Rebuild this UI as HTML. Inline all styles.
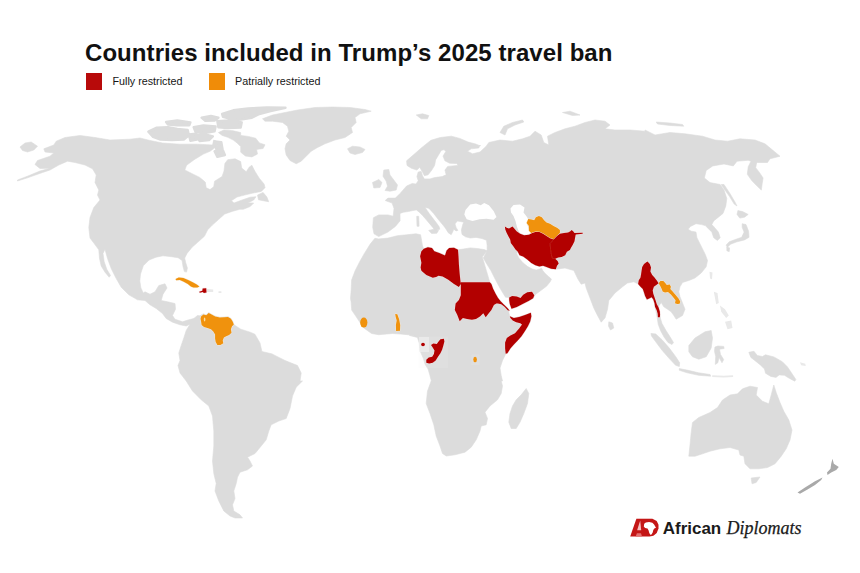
<!DOCTYPE html>
<html><head><meta charset="utf-8"><title>Countries included in Trump's 2025 travel ban</title>
<style>
html,body{margin:0;padding:0;background:#fff;}
body{width:860px;height:573px;position:relative;overflow:hidden;font-family:"Liberation Sans",sans-serif;}
.title{position:absolute;left:85px;top:38.4px;font-size:24px;font-weight:bold;color:#111;white-space:nowrap;line-height:30px;letter-spacing:0.065px;}
.sw{position:absolute;top:73.2px;width:16.6px;height:16.6px;}
.lb{position:absolute;top:73.7px;font-size:10.75px;color:#151515;white-space:nowrap;line-height:14px;}
.af{position:absolute;left:662.7px;top:517.7px;font-size:17px;font-weight:bold;color:#1a1a1a;line-height:22px;white-space:nowrap;}
.dp{position:absolute;left:726.5px;top:517.4px;-webkit-text-stroke:0.25px #1a1a1a;font-family:"Liberation Serif",serif;font-style:italic;font-size:18px;color:#1a1a1a;line-height:22px;white-space:nowrap;}
</style></head><body>
<svg width="860" height="573" viewBox="0 0 860 573" style="position:absolute;left:0;top:0">
<defs><filter id="b" x="-2%" y="-2%" width="104%" height="104%"><feGaussianBlur stdDeviation="0.7"/></filter><filter id="b3"><feGaussianBlur stdDeviation="0.65"/></filter><filter id="b2"><feGaussianBlur stdDeviation="0.4"/></filter></defs>
<g filter="url(#b3)"><path d="M148.4 131.7 L156.8 127.6 L168 127.2 L177.3 128.9 L187.6 129.9 L188.9 135.4 L183.8 139.6 L171.7 140.1 L160.5 139.6 L153.1 136.9Z M188.9 134.5 L196 133.6 L196.9 139.6 L190.4 140.7Z M214.6 141.4 L221.3 142.2 L222.5 148.9 L216.5 150Z M166.1 122 L177.3 120.5 L190.4 122.4 L189.4 125.2 L177.3 125.2 L168 124.6Z M193.7 127.2 L203.4 125.4 L215.6 126.5 L214.6 131.3 L203.4 133.2 L195.6 132.1Z M196 135.4 L205.3 134.5 L212.8 136.4 L209 140.1 L199.7 141Z M217.4 121.3 L229.6 120.5 L241.7 122.4 L240.7 127.6 L227.7 128 L218.4 127.2Z M201.6 117.7 L210.9 115.9 L218.4 117.7 L214.6 120.5 L205.3 120.9Z M222.1 114 L233.3 110.3 L248.2 108.4 L266.9 107.5 L285.5 107.8 L270.6 111.2 L259.4 114 L251.9 117.7 L240.7 119.6 L229.6 118.7 L223 116.8Z M214.6 151.3 L223 150.4 L224.9 155 L217.4 156.9Z" fill="#dcdcdc" stroke="#dcdcdc" stroke-width="2.4" stroke-linejoin="round"/></g>
<g filter="url(#b)">
<path d="M17.5 180 L27.5 176.2 L40 171 L50 168.2 L40 168.5 L35 164.5 L37.5 160.5 L50 156.2 L53.8 153 L45 152 L43.8 148.8 L53.8 145 L56.2 141.2 L65 137.5 L80 135.5 L95 137.5 L110 140 L130 139.2 L140 138 L150 140.5 L162.5 143 L180 144.2 L197.5 144.2 L212.5 145 L213.7 140.1 L218.4 142 L216.5 146.6 L210 151.3 L203.4 154.1 L194.1 159.7 L186.6 165.3 L184.8 170 L192.2 173.7 L199.7 177.4 L205.3 182.1 L206.2 187.7 L210 189.6 L213.7 186.8 L214.6 181.2 L222.1 176.5 L224 170.9 L224.9 163.4 L227.7 159.7 L235.1 158.8 L240.7 161.6 L241.7 168.1 L246.3 171.8 L249.1 167.2 L251.9 165.3 L254.7 170.9 L259.4 178.4 L264.1 184 L265 187.7 L261.3 191.4 L251.9 193.3 L244.5 195.1 L237 197 L231.4 200.7 L234 203 L242.1 200 L250.2 197.2 L256 196.7 L253.7 200 L247.9 203 L253.7 203 L250.2 206.5 L243.3 209.3 L239.8 209.3 L232.8 211.2 L224.7 214 L218.8 219.3 L212.3 225.1 L207.7 229.8 L204.4 236.3 L197.4 242.6 L192.1 247.2 L187 253.5 L184.7 258.1 L185.6 262.3 L187.4 268.1 L186.5 272.1 L184.4 271.6 L183 266.5 L182.1 260.5 L178.1 257.7 L170 256.5 L163 255.8 L156 257.2 L149.1 260 L143.3 265.8 L140.5 274 L139.8 280.9 L140.9 287.9 L143.3 293 L145 291.8 L150 294.2 L155 291.8 L158.8 285.5 L165 283.8 L167 288 L163 294.2 L161.2 300.5 L167.5 301.8 L175 303.5 L175.5 309.2 L172.5 315.5 L175 319.2 L182.5 321.8 L188 320 L193.8 318.5 L197.5 320.5 L190 324.2 L186.2 326 L180 324.8 L172.5 322.2 L166.2 318.5 L162.5 313.5 L156.2 308.5 L150 304.8 L145 300.5 L137.5 299.8 L128.8 294.8 L121.2 287.2 L116.2 278.5 L111.2 268.5 L107.5 258.5 L105 249.2 L103 253.5 L104.2 261.8 L106.8 269.2 L110.5 275.5 L109.2 277.2 L105 272.2 L101.2 266 L99.5 258.5 L98.8 249.8 L93.8 243 L90 238 L88.8 227.5 L90 217.5 L93.8 207.5 L100 200 L97.5 195 L98.8 190 L95 182.5 L96.2 175 L92.5 168.8 L85 165 L75 162.5 L67.5 161.2 L58.8 165 L50 170 L42.5 172.5 L27.5 177.8 L17.5 181Z M20 147 L25 143 L31.2 142 L37.5 146.2 L33.8 150 L27.5 152 L22.5 150.5Z M257.5 195.1 L263.1 192.4 L266.9 197 L268.7 201.7 L263.1 200.7 L258.5 199.8Z M240.7 135.4 L248.2 136.4 L255.7 138.2 L259.4 142.9 L265 144.8 L263.1 148.5 L256.6 149.4 L257.5 154.1 L251.9 156.9 L245.4 156 L240.7 152.2 L240.7 146.6 L237 142.9 L233.3 140.1 L227.7 137.3 L222.1 135.4 L218.4 132.6 L224 129.9 L233.3 130.8 L240.7 132.6Z M262.5 118.8 L272.5 115 L285 112.5 L297.5 110 L315 107.5 L332.5 107 L350 107.5 L365 109.5 L371.2 111.2 L360 113.8 L355 117.5 L356.2 122.5 L351.2 127.5 L352.5 132.5 L345 137.5 L335 140 L325 143.8 L317.5 147.5 L311.2 151.2 L306.2 156.2 L301.2 161.2 L296.2 163.8 L290 160.5 L286.2 155 L285 148.8 L286.2 143.8 L290 140 L286.2 136.2 L288.8 131.2 L287.5 126.2 L282.5 122.5 L272.5 121.2 L265 121.2Z M347.5 148.8 L352.5 146.2 L360 147 L365 149.5 L362.5 152.5 L355 154.5 L350 153Z M416.2 115 L422.5 113.8 L428.8 115.5 L427.5 118.8 L421.2 118.8Z M383.8 170 L388.8 169.5 L390 175 L393.8 180 L397.5 185 L396.2 190 L390 191.2 L385 190.5 L387.5 186.2 L386.2 181.2 L383 176.2Z M372.5 182.5 L378.8 179.5 L382 182.5 L380 187.5 L373.8 188Z M193.8 318.5 L197.5 315.5 L199.9 315.8 L203.4 313.8 L206.3 315 L208.7 312.6 L211.6 314.4 L215.1 316.1 L219.8 317.3 L224.4 317.1 L228 316.7 L231.1 318.5 L232.9 321.6 L234 324.8 L240.8 329.2 L250.2 332.2 L254.9 334.2 L260 343 L261.9 351.5 L272.5 354 L272.5 354.2 L285 360.5 L297.5 365.5 L301.2 373 L300 381 L302.5 381 L296.2 387.2 L292.5 396 L290 408.5 L286.2 418.5 L278.8 421 L271.2 424.8 L268.8 431 L266.2 439.8 L261.2 446 L255 453.5 L247.5 457.2 L250 461 L252.5 466 L247.5 469.8 L240 472.2 L237.5 477.2 L236.2 483.5 L233.8 491 L235 498.5 L232.5 504.8 L233.8 511 L240 514.8 L242.5 518 L235 518 L230 516 L223.8 511 L218.8 501 L215 491 L216.2 483.5 L213.8 473.5 L212.5 461 L213.8 446 L213.8 431 L212.5 416 L208.8 406 L201.2 399.8 L192.5 391 L186.2 381 L180 373 L178 365.5 L180 360.5 L178.8 353 L181.2 345.5 L183.8 338 L186.2 330.5 L190 324.2Z M378.7 236.6 L374 233.8 L372.7 227.3 L373.4 217.7 L378.7 214.9 L388 214.9 L393.2 216.2 L394 208.4 L392.1 203.1 L385.2 200.5 L388 198.1 L395.4 198.1 L400.1 193.4 L406.6 186 L412.2 183.5 L416 184.1 L418.2 180.7 L416.9 176.6 L418.2 172 L421.2 171.4 L422.5 175.7 L424.4 178.9 L430 178.9 L434.6 177.6 L442.1 176.6 L446.2 174.8 L444.9 170.1 L447.7 166.4 L457.9 165.4 L457 163.6 L449.6 163.2 L444.9 160.8 L443 156.1 L445.8 151.5 L444 149.6 L441.2 150.5 L438.4 155.2 L435.6 159.9 L434.6 165.4 L431.8 170.1 L428.1 174.8 L424.4 175.7 L422.5 172 L419.7 167.3 L416.9 170.1 L411.3 168.2 L407 165.4 L406.6 160.8 L414.1 154.3 L421.6 147.7 L430.9 140.3 L440.2 137.5 L451.4 136.2 L459.8 138.4 L468.2 142.1 L475.7 144 L480.3 145.9 L480 145 L478.8 148 L471.2 148.8 L467.5 151.2 L472.5 153.8 L480 152 L486.2 146.2 L488.8 142.5 L500 140 L512.5 141.2 L522.5 138.8 L530 136.2 L535 131.2 L541.2 135 L543.8 142.5 L548.8 145 L547.5 136.2 L555 132.5 L565 128.8 L575 126.2 L585 122.5 L595 120 L605 121.2 L610 125 L605 128.8 L615 130 L630 130 L645 131.2 L645 130 L655 135 L670 132.5 L685 133.8 L702.5 136.2 L715 140 L727.5 141.2 L740 138.8 L755 140 L765 143.8 L772.5 150 L780 156.2 L770 158.8 L767.5 162.5 L757.5 162.5 L756.6 163.1 L755.7 167.7 L759.4 172.4 L763.1 178 L762.2 183.6 L761.3 190.1 L757.5 186.4 L751.9 180.8 L747.3 174.3 L748.2 166.8 L751 161.2 L748.2 160.3 L737 161.2 L733.3 165.9 L724 164 L712.8 165.9 L706.2 170.5 L704.4 178 L710 182.6 L720.2 184.5 L724 190.1 L726.8 198.5 L725.8 206 L723 213.4 L718.4 217.2 L713.7 220.9 L711.8 224.6 L713.7 226.5 L718.4 232.1 L720.2 237.7 L717.4 240.5 L713.7 237.7 L711.8 232.1 L708.1 228.4 L705.3 225.6 L701.6 224.6 L696 223.7 L690.4 226.5 L688.1 229.3 L691.3 231.2 L696 232.1 L696.9 237.7 L699.7 243.3 L702.5 248.9 L705.3 254.5 L706.2 256.9 L707.5 260.5 L706.2 266.8 L701.2 273 L695 278 L688.8 280.5 L682.5 282.5 L680 286.8 L678.8 291.8 L680 296.8 L682.5 303 L685 309.2 L682.5 315.5 L676.2 319.2 L673.8 315.5 L671.2 311.8 L667.5 309.2 L663.8 306.8 L661.2 302.5 L658.8 306 L659.2 313 L660.5 318.5 L662 323.5 L666 330.5 L670 336.8 L673.5 342.5 L672 344.5 L668 342.5 L664 337 L660.5 330.5 L658.2 324.2 L657.2 317.5 L655.1 307 L654.5 303.2 L653.3 299.6 L651.6 297.3 L649.2 298.5 L646.9 299.6 L645.1 296.1 L644 292.6 L642.8 289.1 L640.5 286.8 L638.1 283.9 L633.8 281.8 L627.5 283 L622.5 286.8 L615 293 L608.8 300.5 L607.5 309.2 L605 318 L601.2 322.2 L597.5 315.5 L593.8 308 L590 298 L586.2 288 L585 283 L581.2 284.2 L578 279.2 L573.8 270.5 L565 268 L555.8 269.2 L555.8 269.3 L551.1 268.7 L546.5 267 L543 265.8 L539.4 266.4 L535.4 265.2 L531.3 262.9 L527.2 259.4 L523.1 256.5 L519.6 255.3 L517.8 251.8 L516.7 253.7 L519 258.2 L523 262.8 L527.7 266.6 L532.1 268.9 L536.2 270.1 L539.1 269.2 L541.5 268.2 L542.9 270.7 L545.2 273.6 L548.5 276.5 L551.4 279.1 L550.2 281.8 L547.3 285.3 L546.8 286 L541.8 289.8 L535 294.8 L533.2 298.2 L528.5 301.1 L522.6 304 L516.8 307 L511.5 308.7 L509.8 304 L509.2 297.6 L505.5 297.2 L500.2 288.5 L495.5 279.8 L491 270.8 L486.2 263 L484.5 260 L483.3 258 L487.1 250.8 L487.1 245 L486.5 240.3 L481.9 238.5 L476 237.4 L470.2 238 L465.5 236.8 L462 234.4 L461.4 229.8 L462.6 225.1 L463.7 222.2 L460.8 221.6 L457.3 221 L455 223.9 L456.1 227.4 L457.9 230.4 L456.1 230.9 L453.8 229.2 L452.6 232.1 L451.2 234.7 L448.2 232.7 L445.6 228.4 L443 225.1 L439.8 221.3 L436.7 217.4 L433.7 213.6 L430.9 210.4 L428.7 208.2 L425.1 207.5 L426.3 209.3 L429.2 213.4 L432.7 218.1 L436.3 222.7 L439.2 226.8 L439.8 229.2 L437.4 229.8 L435.1 230.4 L432.7 227.4 L429.8 223.9 L426.3 219.8 L422.8 215.7 L419.3 212.2 L416.4 209.9 L412.9 210.5 L408.2 211.6 L403.5 212.2 L400 213.4 L400.1 220.8 L395.4 226.4 L388 232Z M500 132.5 L503.8 126.2 L512.5 122.5 L522.5 120 L523.8 122 L515 125 L507.5 128.8 L505 135Z M562.5 112.5 L570 111.2 L580 115 L572.5 115.5Z M656.2 122 L670 123 L682.5 124.5 L683.8 126.2 L670 125.5 L657.5 124Z M721.2 184.5 L724 184.5 L729.6 192.9 L735.1 202.2 L737 206 L734.2 204.1 L729.6 196.6 L724.9 190.1Z M737.9 210.6 L742.6 211.6 L748.2 214.4 L744.5 217.2 L739.8 218.1 L737 214.4Z M742.2 223.7 L746 224.6 L748.6 231.2 L749 237.3 L744.5 239.9 L737 241.8 L730.5 244.2 L727.3 247.4 L726.2 245.1 L729.2 241.8 L736.1 239.2 L741.7 237.3 L744.1 232.1 L742.2 227.4Z M726.8 247 L729.6 247.9 L729.2 251.7 L726.8 250.7Z M428.7 230.4 L433.9 229.2 L438.6 230.4 L436.8 233.3 L431.6 233.5Z M416.7 216.3 L418.7 216.3 L419.1 226.3 L417 226.3Z M608.8 321.8 L612.5 323 L613.8 328 L610.5 330 L608.5 326Z M650.9 333.5 L655.7 333.9 L662 339.7 L669.3 348.1 L675.6 356.5 L679.7 362.8 L679.3 366.5 L675.6 365.3 L669.3 358.6 L662 350.2 L655.7 341.8 L651.5 336Z M679.3 368.6 L688.1 370.3 L698.6 372.8 L710.1 374.5 L710.7 376.2 L698.6 375.3 L687.1 372.8 L679.3 370.3Z M688.8 345.5 L695 338 L705 331.8 L711.2 330.5 L712.5 338 L711.2 348 L706.2 356.8 L698.8 359.2 L692.5 356.8 L688.8 351.8Z M714.9 347.1 L717.8 346 L723.7 346.4 L724.1 348.5 L719.5 349.2 L720.5 354.4 L723.7 359.6 L722 362.8 L719.1 357.5 L717.8 362.8 L715.3 364.4 L715.7 356.5 L714.5 351.3Z M748.8 352.3 L754 351.3 L757.2 355.4 L762.4 356.5 L765.5 354.8 L773.9 356.9 L782.3 361.7 L787.5 366.9 L791.7 373.2 L795.9 379.5 L794.8 381.2 L789.6 378.5 L784.4 375.3 L779.1 374.9 L776 377.4 L770.8 376.4 L765.5 373.2 L764.5 369 L760.3 364.9 L755.1 360.7 L750.9 357.5Z M688.8 456.2 L690 445 L691.2 432.5 L692.5 422.5 L698.8 417.5 L710 412.5 L717.5 407.5 L722.5 400 L730 395 L737.5 393.8 L742.5 388.8 L750 386.2 L757.5 387.5 L756.2 395 L762.5 401.2 L768.8 403.8 L771.2 395 L773.8 385 L776.2 392.5 L780 402.5 L783.8 411.2 L788.8 420 L792 430 L790 440 L786.2 448.8 L781.2 456.2 L775 463.8 L767.5 467.5 L758.8 468.8 L750 468.8 L745 463.8 L743.8 456.2 L740 455 L738.8 450 L730 447.5 L720 448.8 L710 451.2 L702.5 453.8 L695 456.2Z M751.2 478 L760 477 L756.2 482.5 L752 483.8Z M378.7 238.9 L388 238.1 L397.3 235.7 L406.6 234.8 L416 233.8 L420.6 234.8 L421.6 240.4 L422.5 246 L423.8 248.8 L427.9 247.2 L432 248 L434.4 251.3 L439.3 252.9 L445 255.4 L446.6 250.5 L449.1 248 L454 247.7 L458 249.7 L463.2 249.1 L470.2 247.9 L477.2 248.5 L484.2 249.6 L487.1 250.8 L482.3 256.9 L489.8 282.2 L491.4 283.9 L493.1 288.7 L495.5 293.6 L497.9 297.7 L500.4 301 L503.6 304.2 L507.7 308.3 L509.7 310.7 L508.6 311.1 L509.2 314 L509.8 316.3 L513.9 318.1 L519.1 316.9 L525 315.1 L530.8 312.8 L531.4 316.3 L530.2 321.6 L527.9 326.3 L525 330.9 L521.5 336.2 L518 340.3 L513.9 344.4 L510.4 348.5 L507.4 353.2 L505.7 354.1 L502.5 360.5 L500 368 L501.2 375.5 L502.5 381 L501.2 381 L502.5 386 L501.2 393.5 L497.5 399.8 L490 406 L485 412.2 L487.5 418.5 L486.2 424.8 L481.2 426 L480 431 L476.2 439.8 L471.2 447.2 L465 452.2 L455 454.8 L446.2 456 L442.5 453.5 L440 446 L436.2 436 L433.8 424.8 L430 413.5 L426.2 403.5 L427.5 391 L431.2 381 L431.6 382 L429.8 375 L428.1 369.1 L425.1 364.4 L423.4 358.6 L419.9 350.4 L419.3 343.4 L417.5 337.5 L409.4 335.4 L414.9 335.3 L407.8 334.7 L400.8 334.1 L392.6 333.5 L378.6 334.7 L371.6 333.5 L363.4 327.7 L356.4 317.1 L351.7 310.1 L351.1 301.7 L350.5 298.7 L351.2 289.4 L351.6 280.1 L355.1 270.8 L359.8 261.5 L364.4 253.4 L370.2 244.1 L374.9 238.3Z M526.2 388.5 L528.8 393.5 L527.5 403.5 L523.8 413.5 L520 422.2 L516.2 428.5 L511.2 428.5 L508.8 422.2 L510 413.5 L512.5 406 L516.2 399.8 L521.2 394.8Z" fill="#dcdcdc" stroke="#dcdcdc" stroke-width="0.6" stroke-linejoin="round"/>
<path d="M465.5 209.9 L470.2 204.6 L476 203.5 L480.7 205.2 L484.2 202.9 L488.9 205.2 L493.6 211.1 L496.5 216.9 L493.6 219.8 L486.5 218.7 L479.5 219.2 L472.5 221 L466.7 219.2 L464.3 214.6Z M510.5 208.5 L513.5 205 L520 204.5 L524.5 207.5 L523.5 212.5 L527 217 L528.5 220 L527 223.5 L528.5 228 L531 233 L527 235 L522 234.5 L519 232 L517 227 L515.5 221 L513.5 216 L511 212.5Z" fill="#fff"/>
<rect x="418.5" y="336.5" width="29.5" height="31.5" fill="#f0f0f0" opacity="0.15"/>
<rect x="419" y="337" width="10" height="15" fill="#f2f2f2" opacity="0.6"/>
<rect x="471.5" y="354.5" width="8" height="10.5" fill="#e8e8e8" opacity="0.3"/>
<path d="M832.5 458.8 L833.8 463.8 L838.8 467 L836.2 470 L831.2 472.5 L827.5 475 L827 472.5 L830.5 468.8 L831.2 463.8Z M797.5 492.5 L805 487.5 L815 481.2 L822.5 477.5 L821.2 480 L815 485 L807.5 489.5 L800 493.8Z" fill="#a9a9a9"/>
<path d="M712.2 375.3 L723.7 375.7 L733.1 375.3 L733.1 377 L723.7 377.4 L712.2 377Z M713.8 291.8 L717.5 293 L718.8 303 L716.2 304.2Z M725 321.8 L731.2 320.5 L732.5 328 L727.5 329.2Z M709.5 271.8 L712.5 272.5 L712 279.2 L710 278.5Z M800 362.3 L805.3 363.8 L805.7 365.9 L801.1 365.3Z M206.8 289 L213.2 289.6 L213.2 291.9 L206.8 292.1Z M218.5 291.3 L221.4 291.3 L221.4 293.1 L218.5 293.1Z M720 305.5 L725 309.2 L728.8 315.5 L726.2 318 L721.2 311.8Z" fill="#e9e9e9"/>
<path d="M175.6 279 L178.7 277.4 L183.4 277.9 L188.1 279.9 L192.7 282.2 L196.8 284.5 L199.4 286.6 L197.4 287.5 L193.3 287.6 L190.8 286.4 L187.8 284.1 L183.7 281.7 L179.9 280 L176.1 280.2Z M201.1 316.4 L203.4 314.6 L206.3 315.2 L208.7 312.9 L211.6 314.6 L215.1 316.4 L219.8 317.5 L224.4 317.3 L228 317 L230.9 318.7 L232.6 321.6 L233.8 324.6 L232 326.3 L230.9 329.2 L231.5 332.7 L229.1 335.1 L226.2 336.3 L223.9 337.4 L222.7 340.4 L223.3 343.3 L220.4 345 L217.4 345 L215.7 342.1 L215.1 338.6 L215.1 334.5 L213.3 331.6 L211 329.2 L207.5 328.1 L204 326.9 L201.6 325.1 L201.1 321.6 L200.5 318.7Z M528.3 219 L526.6 223.1 L528.9 226.1 L528.9 230.7 L531.3 233.1 L535.4 231.9 L539.4 232.1 L543 233.7 L546.5 236 L550 238.3 L553.5 239.5 L557 236 L559.9 233.1 L559.9 230.1 L557 227.8 L553.5 226.1 L550 223.7 L546.5 222.5 L544.1 220.2 L541.8 217.3 L538.9 216.1 L535.9 217.3 L534.2 220.2 L531.3 219.6Z M658.6 283.3 L660.4 280.9 L663.3 280.9 L665 282.7 L666.8 285 L669.7 284.4 L670.9 286.8 L670.3 289.1 L672.6 291.5 L675.6 295 L678.5 298.5 L680.2 301.4 L679.6 303.7 L677.3 304.1 L675 303.2 L675.6 300.2 L673.2 297.3 L670.9 294.4 L668 292 L665 292.6 L662.7 291.5 L661.5 288.5 L660.4 286.2Z M395.2 314 L397.3 314.3 L399.1 319.2 L400.2 325.1 L400 330.7 L396.1 330.9 L395.9 325.1 L396.7 320.4 L395.7 316.9Z" fill="#f0920a" stroke="#f6ead8" stroke-width="0.9" paint-order="stroke" stroke-linejoin="round"/>
<path d="M202.7 288.4 L206.2 288.2 L206.5 292.5 L203.9 293.1 L202.7 291.9 L199.8 292.8 L199.2 291.7 L202.3 290.7Z M423.8 248.8 L427.9 247.2 L432 248 L434.4 251.3 L439.3 252.9 L445 255.4 L446.6 250.5 L449.1 248 L454 247.7 L458 249.7 L458.5 256.2 L458.9 264.3 L459.7 274.1 L460.5 281.4 L460.8 283.9 L458.9 287.1 L454 283.9 L448.3 279.8 L442.6 276.5 L438.5 275.7 L436.1 277 L432.8 277.7 L426.3 274.9 L421.4 270.8 L420.6 267.6 L421.4 262.7 L420.1 256.2 L421.4 251.3Z M460.8 282.2 L475.1 282.2 L489.8 282.2 L491.4 283.9 L493.1 288.7 L495.5 293.6 L497.9 297.7 L500.4 301 L503.6 304.2 L507.7 308.3 L509.7 310.7 L507.7 310.2 L504.5 306.7 L501.2 304.2 L497.9 303.4 L496.3 303.4 L493.9 305 L491.4 309.9 L488.2 314 L485.7 317.2 L483.3 313.2 L480 316.4 L476 318.9 L471.9 319.7 L467 318.9 L462.9 318.1 L459.7 321.3 L457.2 314.8 L454.8 309.9 L455.6 303.4 L458.9 300.1 L460.8 295.3Z M509.2 297.6 L512.1 296.1 L516.8 296.4 L520.5 298 L523.2 294.7 L527.3 292.3 L532 291.8 L534.3 295.3 L533.2 298.2 L528.5 301.1 L522.6 304 L516.8 307 L511.5 308.7 L509.8 304 L509.2 300.5Z M509.8 316.3 L513.9 318.1 L519.1 316.9 L525 315.1 L530.8 312.8 L531.4 316.3 L530.2 321.6 L527.9 326.3 L525 330.9 L521.5 336.2 L518 340.3 L513.9 344.4 L510.4 348.5 L507.4 353.2 L505.7 353.7 L505.1 348.5 L505.1 342.6 L506.8 338 L510.4 335.6 L515 333.3 L519.1 328.6 L522 324.5 L520.3 323.3 L516.2 322.2 L512.7 320.4 L510.4 318.1Z M504.9 226.6 L506.7 227.8 L509 228.4 L512.5 226.6 L514.3 228.4 L516.6 231.3 L520.1 233.7 L524.2 235.2 L528.9 234.8 L532.4 233.1 L535.4 231.9 L539.4 232.1 L543 233.7 L546.5 236 L550 238.3 L553.5 239.5 L557 236 L559.9 233.7 L564 233.1 L568.1 232.5 L570.4 231.3 L571.6 230.1 L573.1 231.3 L574.5 233.1 L582.7 232.8 L582.7 233.8 L575.7 234.5 L575.1 237.7 L574.5 241.3 L572.8 244.8 L571 247.7 L569.9 250 L566.9 251.8 L565.2 255.3 L561.7 257 L558.2 257.6 L555.2 258.8 L557.6 261.1 L558.7 263.5 L557 265.8 L555.8 269.3 L551.1 268.7 L546.5 267 L543 265.8 L539.4 266.4 L535.4 265.2 L531.3 262.9 L527.2 259.4 L523.1 256.5 L519.6 255.3 L517.8 251.8 L515.5 249.4 L513.1 245.9 L510.8 243 L510.2 239.5 L508.5 236.6 L506.7 233.1 L505.3 229.6Z M440.4 339.3 L443.9 338.7 L444.4 341.6 L443.3 345.7 L442.1 349.8 L440.4 353.3 L438 356.8 L435.7 360.4 L432.7 362.7 L429.2 363.5 L426.3 362.7 L426.3 359.8 L428.7 357.4 L432.2 356.8 L433.9 353.9 L434.5 350.4 L432.7 347.5 L431 345.1 L433.3 343.4 L436.8 344 L438.6 341.6Z M647.5 261.6 L649.8 264 L651 267.5 L650.4 271.6 L652.2 275.1 L654.5 277.4 L656.8 280.4 L658.6 283.3 L656.3 285 L653.9 286.8 L652.7 290.3 L653.3 293.8 L654.5 297.3 L655.7 300.8 L656.8 304.3 L658.4 307 L659.8 311.6 L660.1 314.9 L659.8 317.2 L657.9 317.2 L657.7 313.7 L656.7 310.2 L655.1 307 L654.5 303.2 L653.3 299.6 L651.6 297.3 L649.2 298.5 L646.9 299.6 L645.1 296.1 L644 292.6 L642.8 289.1 L640.5 286.8 L638.1 283.9 L638.7 280.4 L640.5 277.4 L641.1 273.9 L641.6 270.4 L642.2 266.9 L644 264 L646.3 262.2Z" fill="#b20202" stroke="#f0dcdc" stroke-width="0.9" paint-order="stroke" stroke-linejoin="round"/>
<path d="M553.5 239.5 L550 243.6 L550.6 249.4 L551.2 254.1 L552.3 258.2 L555.2 258.8" fill="none" stroke="#c23a2a" stroke-width="0.5"/>
<ellipse cx="423" cy="344.5" rx="1.9" ry="1.8" fill="#b20202"/>
<ellipse cx="475.1" cy="359.5" rx="1.8" ry="2.7" fill="#f0920a"/>
<ellipse cx="363.8" cy="322.6" rx="3.6" ry="5.0" fill="#f0920a"/>
<ellipse cx="204.6" cy="319.6" rx="0.8" ry="2" fill="#fad9a0"/>
</g>
<g id="logo" filter="url(#b2)">
<path d="M630.2 536.6 L636.4 518.7 L652.4 518.7 L656.7 521.1 L658.5 524.8 L658.5 528.6 L656.7 532.9 L653.4 535.7 L649.6 536.6Z" fill="#c41414"/>
<path d="M640.2 520.6 L637.1 530.3 L641.2 530.3Z" fill="#f6c0c0"/>
<path d="M635.7 536.6 L636.9 533.3 L641.0 533.3 L642.0 536.6Z" fill="#e47070"/>
<path d="M644.2 523.7 L645.8 522.5 L649.1 522.0 L652.4 522.7 L654.1 524.4 L656.0 527.7 L654.3 528.4 L653.3 530.0 L652.7 532.4 L651.5 534.5 L650.3 534.8 L649.3 532.9 L648.5 530.3 L647.5 528.4 L645.1 527.9 L643.8 526.4Z" fill="#fff"/>
</g>
</svg>
<div class="title">Countries included in Trump’s 2025 travel ban</div>
<div class="sw" style="left:85.9px;background:#b80a0a"></div><div class="lb" style="left:112.5px">Fully restricted</div>
<div class="sw" style="left:208.6px;background:#f08c08"></div><div class="lb" style="left:235px">Patrially restricted</div>
<div class="af">African</div><div class="dp">Diplomats</div>
</body></html>
